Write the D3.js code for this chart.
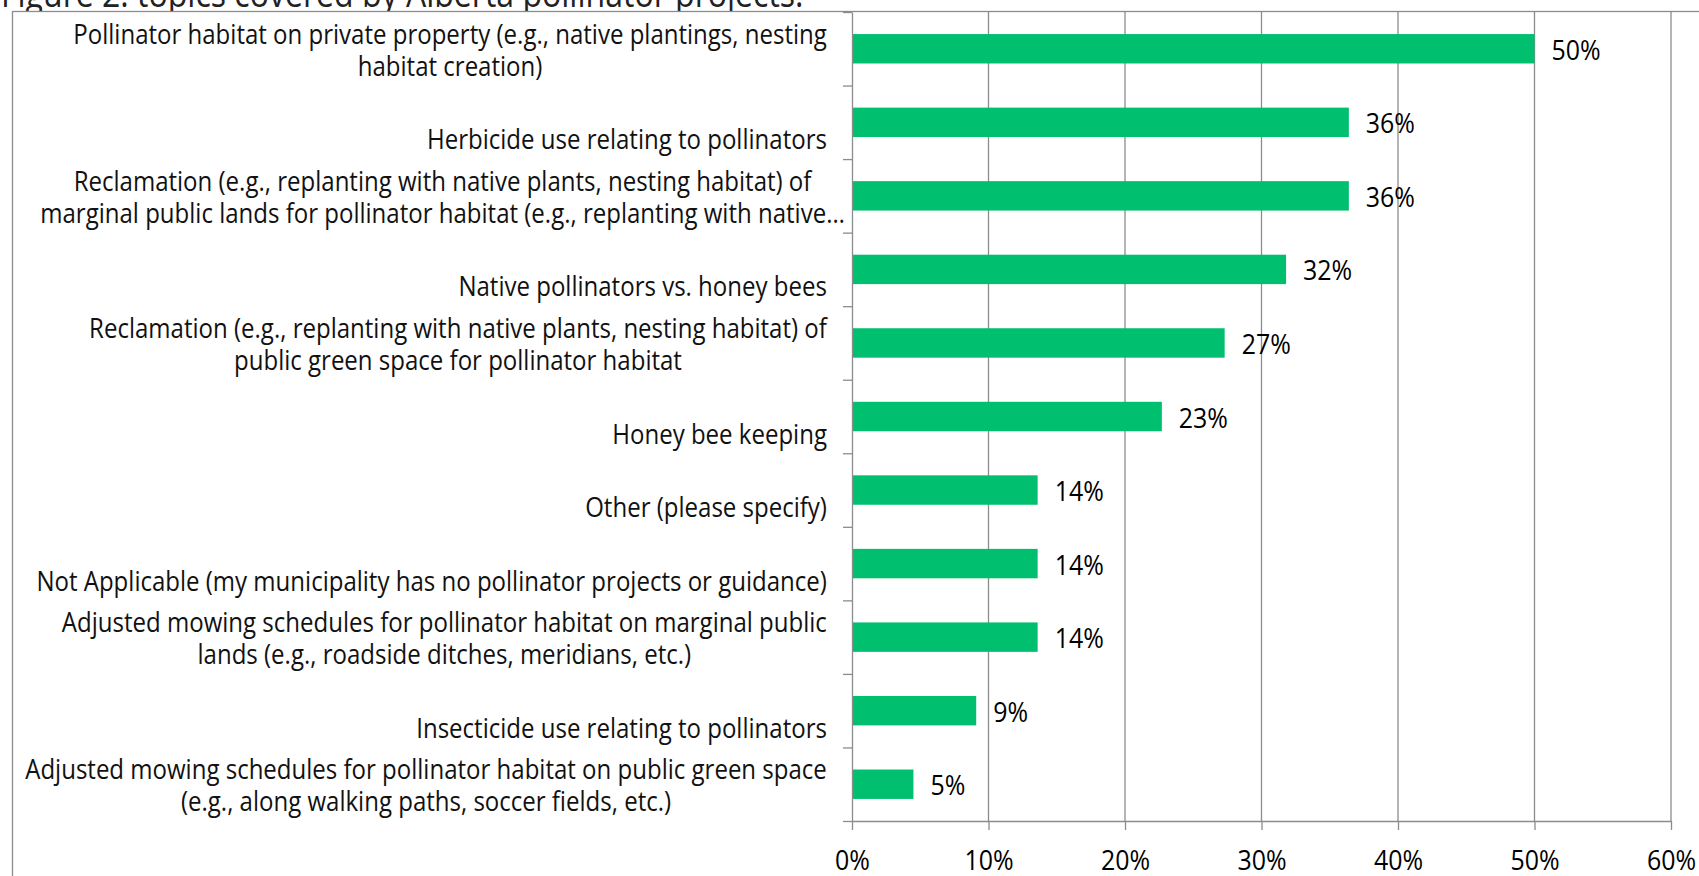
<!DOCTYPE html>
<html>
<head>
<meta charset="utf-8">
<script src="https://cdn.jsdelivr.net/npm/d3@7"></script>
<style>
  body { margin: 0; background: #fff; }
  svg { display: block; font-family: "Open Sans", sans-serif; }
</style>
</head>
<body>
<svg width="1699" height="876"></svg>
<script>
const title = "Figure 2: topics covered by Alberta pollinator projects.";

// category labels, line breaks as in the original chart
const categories = [
  "Pollinator habitat on private property (e.g., native plantings, nesting\nhabitat creation)",
  "Herbicide use relating to pollinators",
  "Reclamation (e.g., replanting with native plants, nesting habitat) of\nmarginal public lands for pollinator habitat (e.g., replanting with native…",
  "Native pollinators vs. honey bees",
  "Reclamation (e.g., replanting with native plants, nesting habitat) of\npublic green space for pollinator habitat",
  "Honey bee keeping",
  "Other (please specify)",
  "Not Applicable (my municipality has no pollinator projects or guidance)",
  "Adjusted mowing schedules for pollinator habitat on marginal public\nlands (e.g., roadside ditches, meridians, etc.)",
  "Insecticide use relating to pollinators",
  "Adjusted mowing schedules for pollinator habitat on public green space\n(e.g., along walking paths, soccer fields, etc.)"
];

// percent of respondents
const values = [50, 36.4, 36.4, 31.8, 27.3, 22.7, 13.6, 13.6, 13.6, 9.1, 4.5];

const xTicks = [0, 10, 20, 30, 40, 50, 60];

const width = 1699;
const height = 876;
const margin = { top: 12, right: 28, bottom: 55, left: 852 };
const labelRight = 827;
const overflow = 18; // truncated labels spill past the label area
const lineHeight = 32;
const sx = 0.89; // text in the source is a bit narrow
const gridColor = "#8c8c8c";

const svg = d3.select("svg");

// title, mostly cut off at the top
svg.append("text")
  .attr("transform", `translate(1,7) scale(${sx},1)`)
  .attr("font-size", 36)
  .attr("fill", "#222")
  .text(title);

// chart frame
svg.append("rect")
  .attr("x", 12.5).attr("y", 11.5)
  .attr("width", 2000).attr("height", 2000)
  .attr("fill", "#fff")
  .attr("stroke", gridColor)
  .attr("stroke-width", 1.3);

const xScale = d3.scaleLinear().domain([0, 60]).range([margin.left, width - margin.right]);
const yScale = d3.scaleBand()
  .domain(d3.range(categories.length))
  .range([margin.top, height - margin.bottom])
  .paddingInner(0.6)
  .paddingOuter(0.3);

// gridlines
svg.append("g")
  .selectAll("line")
  .data(xTicks.slice(1))
  .join("line")
  .attr("x1", d => xScale(d)).attr("x2", d => xScale(d))
  .attr("y1", margin.top).attr("y2", height - margin.bottom)
  .attr("stroke", gridColor)
  .attr("stroke-width", 1.3);

// bars
svg.append("g")
  .selectAll("rect")
  .data(values)
  .join("rect")
  .attr("x", xScale(0))
  .attr("y", (d, i) => yScale(i))
  .attr("width", d => xScale(d) - xScale(0))
  .attr("height", yScale.bandwidth())
  .attr("fill", "#00bf6f");

// y axis with ticks between categories
const yEdge = d3.scaleLinear().domain([0, categories.length]).range([margin.top, height - margin.bottom]);
const yAxis = d3.axisLeft(yEdge)
  .tickValues(d3.range(categories.length + 1))
  .tickSize(9)
  .tickSizeOuter(0)
  .tickFormat("");
svg.append("g")
  .attr("transform", `translate(${margin.left},0)`)
  .call(yAxis)
  .call(g => g.selectAll("path, line").attr("stroke", gridColor).attr("stroke-width", 1.3))
  .call(g => g.selectAll("text").remove());

// x axis
const xAxis = d3.axisBottom(xScale)
  .tickValues(xTicks)
  .tickSize(9)
  .tickSizeOuter(0)
  .tickFormat(d => d + "%");
svg.append("g")
  .attr("transform", `translate(0,${height - margin.bottom})`)
  .call(xAxis)
  .call(g => g.selectAll("path, line").attr("stroke", gridColor).attr("stroke-width", 1.3))
  .call(g => g.selectAll("text")
    .attr("font-family", "Open Sans")
    .attr("font-size", 28)
    .attr("fill", "#000")
    .attr("y", 49)
    .attr("dy", null)
    .attr("transform", `scale(${sx},1)`));

// value labels
svg.append("g")
  .selectAll("text")
  .data(values)
  .join("text")
  .attr("transform", (d, i) => `translate(${xScale(d) + 17},${yScale(i) + yScale.bandwidth() / 2 + 11}) scale(${sx},1)`)
  .attr("font-size", 28)
  .attr("fill", "#000")
  .text(d => Math.round(d) + "%");

// category labels: block right-aligned, lines centred in the block
const labels = svg.append("g").attr("font-size", 27).attr("fill", "#111");
categories.forEach((cat, i) => {
  const lines = cat.split("\n");
  const c = yScale(i) + yScale.bandwidth() / 2;
  const g = labels.append("g");
  const texts = lines.map((line, j) => {
    const pos = lines.length === 1 ? c + lineHeight / 2 : c + (j - 0.5) * lineHeight;
    return g.append("text")
      .attr("text-anchor", "middle")
      .attr("data-y", pos + 11)
      .text(line);
  });
  const w = d3.max(texts, t => t.node().getComputedTextLength()) * sx;
  const right = cat.includes("…") ? labelRight + overflow : labelRight;
  const cx = right - w / 2;
  texts.forEach(t => t.attr("transform", `translate(${cx},${t.attr("data-y")}) scale(${sx},1)`).attr("data-y", null));
});
</script>
</body>
</html>
